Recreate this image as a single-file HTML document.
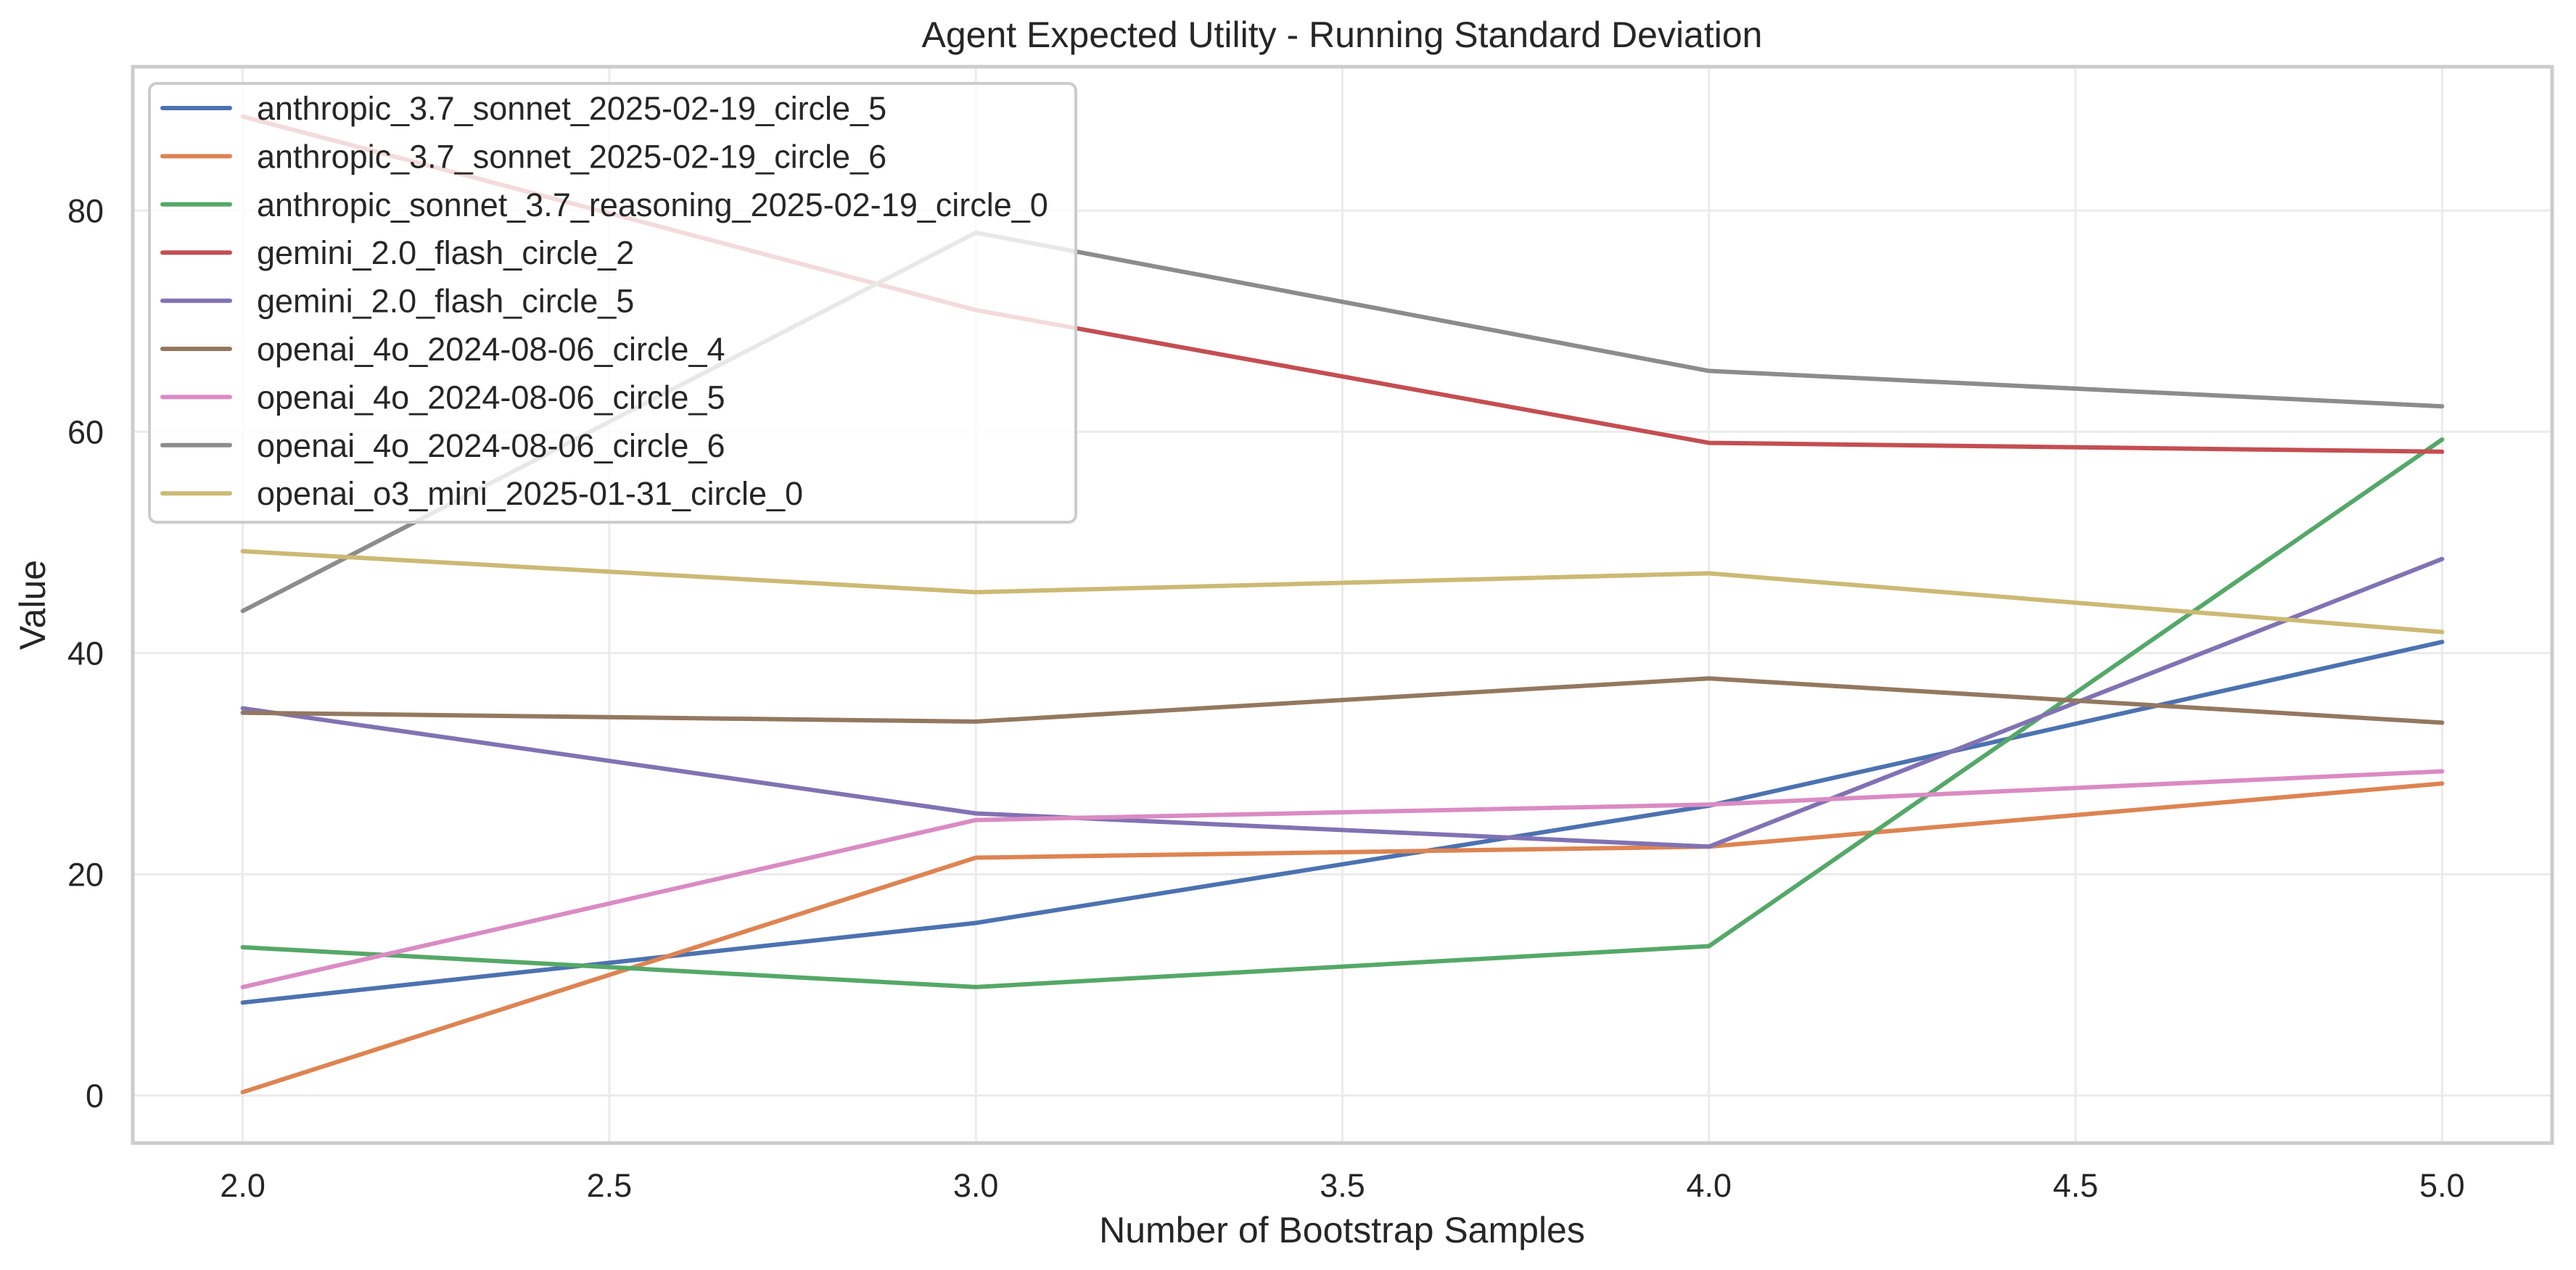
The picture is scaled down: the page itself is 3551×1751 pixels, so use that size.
<!DOCTYPE html>
<html><head><meta charset="utf-8">
<style>
html,body{margin:0;padding:0;background:#fff;}
svg{display:block;font-family:"Liberation Sans",Arial,sans-serif;}
</style></head>
<body>
<svg id="chart" width="3551" height="1751" viewBox="0 0 3551 1751">
  <rect x="0" y="0" width="3551" height="1751" fill="#fff"/>
  <g id="grid"></g>
  <g id="lines"></g>
  <rect x="183" y="92" width="3335" height="1484" fill="none" stroke="#cccccc" stroke-width="5"/>
  <g id="ticks"></g>
  <text x="1850" y="65" font-size="50" text-anchor="middle" fill="#262626">Agent Expected Utility - Running Standard Deviation</text>
  <text x="1850" y="1713" font-size="50" text-anchor="middle" fill="#262626">Number of Bootstrap Samples</text>
  <text x="62" y="834" font-size="50" text-anchor="middle" fill="#262626" transform="rotate(-90 62 834)">Value</text>
  <g id="legend"></g>
</svg>
<script>
const xValues = [2, 3, 4, 5];
const seriesNames = ["anthropic_3.7_sonnet_2025-02-19_circle_5","anthropic_3.7_sonnet_2025-02-19_circle_6","anthropic_sonnet_3.7_reasoning_2025-02-19_circle_0","gemini_2.0_flash_circle_2","gemini_2.0_flash_circle_5","openai_4o_2024-08-06_circle_4","openai_4o_2024-08-06_circle_5","openai_4o_2024-08-06_circle_6","openai_o3_mini_2025-01-31_circle_0"];
const seriesColors = ["#4c72b0","#dd8452","#55a868","#c44e52","#8172b3","#937860","#da8bc3","#8c8c8c","#ccb974"];
const s0 = [8.4, 15.6, 26.2, 41.0];
const s1 = [0.3, 21.5, 22.5, 28.2];
const s2 = [13.4, 9.8, 13.5, 59.3];
const s3 = [88.5, 71.0, 59.0, 58.2];
const s4 = [35.0, 25.5, 22.5, 48.5];
const s5 = [34.6, 33.8, 37.7, 33.7];
const s6 = [9.8, 24.9, 26.3, 29.3];
const s7 = [43.8, 78.0, 65.5, 62.3];
const s8 = [49.2, 45.5, 47.2, 41.9];
const seriesValues = [s0,s1,s2,s3,s4,s5,s6,s7,s8];
const xTicks = [2.0, 2.5, 3.0, 3.5, 4.0, 4.5, 5.0];
const yTicks = [0, 20, 40, 60, 80];

const NS = "http://www.w3.org/2000/svg";
const L=183,R=3518,T=92,B=1576;
const xMin=1.85,xMax=5.15,yMin=-4.3,yMax=93;
function xs(v){return L+(v-xMin)/(xMax-xMin)*(R-L);}
function ys(v){return B-(v-yMin)/(yMax-yMin)*(B-T);}
function mk(tag,attrs,parent){const e=document.createElementNS(NS,tag);for(const k in attrs)e.setAttribute(k,attrs[k]);parent.appendChild(e);return e;}

const grid=document.getElementById('grid'), ticks=document.getElementById('ticks');
xTicks.forEach(t=>{
  const g=mk('line',{x1:xs(t),x2:xs(t),y1:T,y2:B,stroke:'#ebebeb','stroke-width':3},grid);
  
  
  const tx=mk('text',{x:xs(t),y:1650,'font-size':45,'text-anchor':'middle',fill:'#262626'},ticks);
  tx.textContent=t.toFixed(1);
  
  
});
yTicks.forEach(t=>{
  const g=mk('line',{x1:L,x2:R,y1:ys(t),y2:ys(t),stroke:'#ebebeb','stroke-width':3},grid);
  
  
  const tx=mk('text',{x:143,y:ys(t)+16,'font-size':45,'text-anchor':'end',fill:'#262626'},ticks);
  tx.textContent=String(t);
  
  
});
const lines=document.getElementById('lines');
seriesValues.forEach((vals,i)=>{
  const pts=vals.map((v,j)=>xs(xValues[j]).toFixed(1)+','+ys(v).toFixed(1)).join(' ');
  const p=mk('polyline',{points:pts,fill:'none',stroke:seriesColors[i],'stroke-width':6,'stroke-linejoin':'round','stroke-linecap':'round'},lines);
  
  
});
const legend=document.getElementById('legend');
const box=mk('rect',{x:206,y:115,width:1277,height:605,rx:10,fill:'rgba(255,255,255,0.8)',stroke:'#cccccc','stroke-width':4},legend);


seriesNames.forEach((n,i)=>{
  const y=149+i*66.4;
  const h=mk('line',{x1:224,x2:317,y1:y,y2:y,stroke:seriesColors[i],'stroke-width':6,'stroke-linecap':'round'},legend);
  
  
  const t=mk('text',{x:354,y:y+16,'font-size':45,fill:'#262626'},legend);
  t.textContent=n;
  
  
});
</script>
</body></html>
